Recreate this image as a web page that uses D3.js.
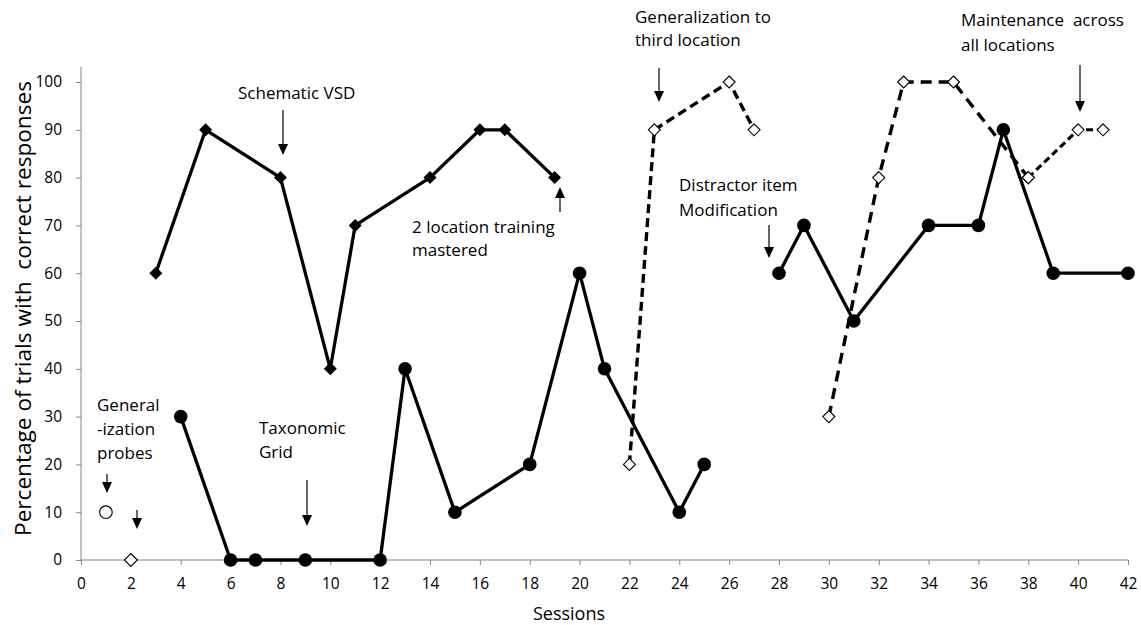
<!DOCTYPE html>
<html><head><meta charset="utf-8">
<script src="https://cdn.jsdelivr.net/npm/d3@7"></script>
<style>body{margin:0;background:#fff}svg{display:block}text{font-family:"Open Sans",sans-serif;fill:#000;white-space:pre}</style>
</head><body>
<script>
// Data
const vsdSessions = [3,5,8,10,11,14,16,17,19];
const vsdValues   = [60,90,80,40,70,80,90,90,80];
const gridSessions = [4,6,7,9,12,13,15,18,20,21,24,25];
const gridValues   = [30,0,0,0,0,40,10,20,60,40,10,20];
const thirdSessions = [22,23,26,27];
const thirdValues   = [20,90,100,90];
const distSessions = [28,29,31,34,36,37,39,42];
const distValues   = [60,70,50,70,70,90,60,60];
const genSessions = [30,32,33,35,38];
const genValues   = [30,80,100,100,80];
const maintSessions = [38,40,41];
const maintValues   = [80,90,90];
const probeCircle = [{s:1,v:10}];
const probeDiamond = [{s:2,v:0}];
const xTicks = d3.range(0,43,2);
const yTicks = d3.range(0,101,10);
const yTitle = "Percentage of trials with  correct responses";
const xTitle = "Sessions";
const notes = [
  ["Schematic VSD"],
  ["General","-ization","probes"],
  [],
  ["Taxonomic","Grid"],
  ["2 location training","mastered"],
  ["Generalization to","third location"],
  ["Distractor item","Modification"],
  ["Maintenance  across","all locations"]
];
// layout for annotations (pixel)
const noteLayout = [
  {tx:238, ty:[99], ax:283, a:[110,155]},
  {tx:97, ty:[411,435,459], ax:107, a:[474,493]},
  {tx:0, ty:[], ax:137, a:[510,529]},
  {tx:259, ty:[434,458], ax:307, a:[480,526]},
  {tx:412, ty:[233,256], ax:560, a:[212,187]},
  {tx:635, ty:[23,46], ax:659, a:[68,102]},
  {tx:679, ty:[191,216], ax:769, a:[225,258]},
  {tx:961, ty:[26,51], ax:1080, a:[65,112]}
];

const W=1141,H=625;
const svg=d3.select("body").append("svg").attr("width",W).attr("height",H);
const x=d3.scaleLinear().domain([0,42]).range([81,1128]);
const y=d3.scaleLinear().domain([0,100]).range([560,82]);
const axisColor="#868686";

// axes
const gx=svg.append("g").attr("transform",`translate(0,${y(0)})`)
  .call(d3.axisBottom(x).tickValues(xTicks).tickSize(5).tickPadding(13).tickFormat(d3.format("d")));
const gy=svg.append("g").attr("transform",`translate(${x(0)},0)`)
  .call(d3.axisLeft(y).tickValues(yTicks).tickSize(5).tickPadding(14).tickFormat(d3.format("d")));
[gx,gy].forEach(g=>{
  g.attr("font-size",null).attr("font-family",null);
  g.select(".domain").remove();
  g.selectAll(".tick line").attr("stroke",axisColor);
  g.selectAll(".tick text").style("font-family","Open Sans").style("font-size","15.5px").attr("fill","#000");
});
svg.append("line").attr("x1",x(0)).attr("x2",x(42)).attr("y1",y(0)).attr("y2",y(0)).attr("stroke",axisColor);
svg.append("line").attr("x1",x(0)).attr("x2",x(0)).attr("y1",y(0)).attr("y2",67).attr("stroke",axisColor);

const yt=svg.append("text").attr("transform",`translate(31,${(80+537)/2}) rotate(-90)`)
  .attr("text-anchor","middle").style("font-size","18px").text(yTitle);
// fit title to the reference length
const yl=yt.node().getComputedTextLength();
yt.style("font-size",(18*455/yl)+"px");
svg.append("text").attr("x",569).attr("y",620).attr("text-anchor","middle").style("font-size","18px").text(xTitle);

const line=d3.line().x(d=>x(d.s)).y(d=>y(d.v));
const zip=(a,b)=>a.map((s,i)=>({s,v:b[i]}));

// dashed series
const dashed=[
  {d:zip(thirdSessions,thirdValues),dash:"9,5",w:3.4},
  {d:zip(genSessions,genValues),dash:"11,7",w:3.4},
  {d:zip(maintSessions,maintValues),dash:"7,4",w:3.1}
];
dashed.forEach(o=>{
  svg.append("path").attr("d",line(o.d)).attr("fill","none").attr("stroke","#000")
    .attr("stroke-width",o.w).attr("stroke-dasharray",o.dash);
});
const diamond=(r)=>`M0,${-r}L${r},0L0,${r}L${-r},0Z`;
dashed.forEach(o=>{
  svg.selectAll(null).data(o.d).enter().append("path")
    .attr("transform",d=>`translate(${x(d.s)},${y(d.v)})`).attr("d",diamond(6))
    .attr("fill","#fff").attr("stroke","#000").attr("stroke-width",1.1);
});

// solid series
const solids=[
  {d:zip(vsdSessions,vsdValues),m:"diamond"},
  {d:zip(gridSessions,gridValues),m:"circle"},
  {d:zip(distSessions,distValues),m:"circle"}
];
solids.forEach(o=>{
  svg.append("path").attr("d",line(o.d)).attr("fill","none").attr("stroke","#000")
    .attr("stroke-width",3.3).attr("stroke-linejoin","round");
});
solids.forEach(o=>{
  if(o.m==="diamond"){
    svg.selectAll(null).data(o.d).enter().append("path")
      .attr("transform",d=>`translate(${x(d.s)},${y(d.v)})`).attr("d",diamond(6.5)).attr("fill","#000");
  } else {
    svg.selectAll(null).data(o.d).enter().append("circle")
      .attr("cx",d=>x(d.s)).attr("cy",d=>y(d.v)).attr("r",6.8).attr("fill","#000");
  }
});

// probes
svg.selectAll(null).data(probeCircle).enter().append("circle")
  .attr("cx",d=>x(d.s)).attr("cy",d=>y(d.v)).attr("r",6.3).attr("fill","#fff").attr("stroke","#000").attr("stroke-width",1.1);
svg.selectAll(null).data(probeDiamond).enter().append("path")
  .attr("transform",d=>`translate(${x(d.s)},${y(d.v)})`).attr("d",diamond(6.5))
  .attr("fill","#fff").attr("stroke","#000").attr("stroke-width",1.1);

// annotations
notes.forEach((lines,i)=>{
  const L=noteLayout[i];
  lines.forEach((t,j)=>{
    svg.append("text").attr("x",L.tx).attr("y",L.ty[j]).style("font-size","17px").text(t);
  });
  const ax=L.ax, y0=L.a[0], y1=L.a[1];
  const sgn = y1>y0?1:-1;
  const hl=11, hw=5;
  svg.append("line").attr("x1",ax).attr("x2",ax).attr("y1",y0).attr("y2",y1-sgn*hl)
    .attr("stroke","#000").attr("stroke-width",1.2);
  svg.append("path").attr("d",`M${ax-hw},${y1-sgn*hl}L${ax+hw},${y1-sgn*hl}L${ax},${y1}Z`).attr("fill","#000");
});
</script>
</body></html>
